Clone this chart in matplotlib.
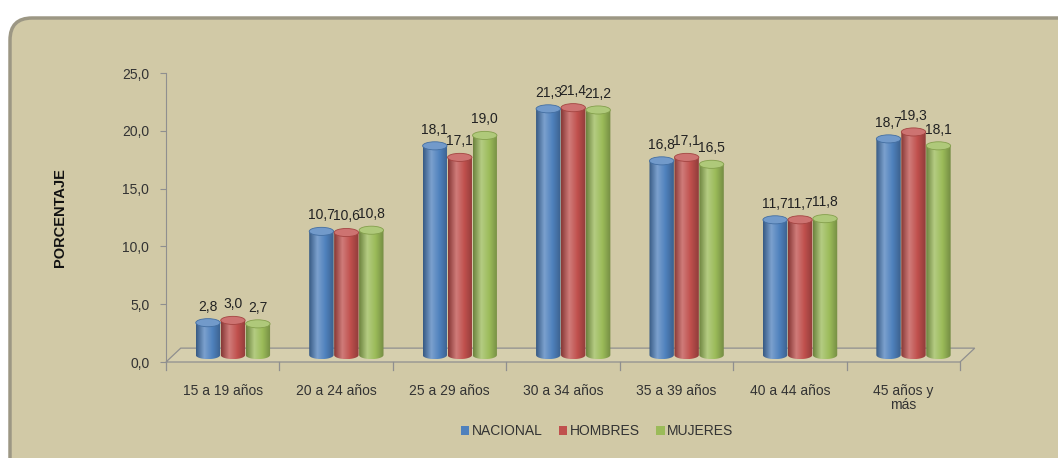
import numpy as np
import matplotlib
matplotlib.use('Agg')
import matplotlib.pyplot as plt
from matplotlib.patches import FancyBboxPatch, Ellipse, PathPatch, Polygon, Patch
from matplotlib.path import Path
from matplotlib.colors import LinearSegmentedColormap, to_rgb

plt.rcParams['font.family'] = ['Liberation Sans', 'DejaVu Sans']

# datos
categorias = ['15 a 19 años', '20 a 24 años', '25 a 29 años', '30 a 34 años',
              '35 a 39 años', '40 a 44 años', '45 años y\nmás']
series = ['NACIONAL', 'HOMBRES', 'MUJERES']
nacional = [2.8, 10.7, 18.1, 21.3, 16.8, 11.7, 18.7]
hombres = [3.0, 10.6, 17.1, 21.4, 17.1, 11.7, 19.3]
mujeres = [2.7, 10.8, 19.0, 21.2, 16.5, 11.8, 18.1]
colores = ['#4F81BD', '#C0504D', '#9BBB59']


def fmt(v):
    return '{:.1f}'.format(v).replace('.', ',')


def mezcla(c, w, f):
    c = np.array(to_rgb(c))
    return tuple(c * (1 - f) + np.array(w) * f)


fig = plt.figure(figsize=(10.58, 4.58), dpi=100)
fig.patch.set_facecolor('white')

# marco de fondo
bg = fig.add_axes([0, 0, 1, 1])
bg.set_xlim(0, 1058)
bg.set_ylim(0, 458)
bg.axis('off')
bg.add_patch(FancyBboxPatch((10, -30), 1080, 470,
                            boxstyle='round,pad=0,rounding_size=22',
                            fc='#D1C9A6', ec='#9c9784', lw=2.5))

ax = fig.add_axes([166 / 1058, 96 / 458, 794 / 1058, 289 / 458])
ax.set_facecolor('none')
ax.set_xlim(-0.5, 6.5)
ax.set_ylim(0, 25)

# piso 3D
ddx, ddy = 0.13, 1.2
ax.add_patch(Polygon([(-0.5, 0), (6.5, 0), (6.5 + ddx, ddy), (-0.5 + ddx, ddy)],
                     closed=True, fc='#D6CFAE', ec='#8f8f8f', lw=0.9,
                     clip_on=False, zorder=1))
for b in np.arange(-0.5, 7.0, 1.0):
    ax.plot([b, b], [0, -0.7], color='#8f8f8f', lw=0.9, clip_on=False, zorder=1)

ancho = 0.215
paso = 0.22
off = 0.09
base = 0.6
eh = 0.7

for j, (vals, col) in enumerate(zip([nacional, hombres, mujeres], colores)):
    cmap = LinearSegmentedColormap.from_list(
        'c%d' % j, [mezcla(col, (0, 0, 0), 0.3), mezcla(col, (1, 1, 1), 0.25),
                    col, mezcla(col, (0, 0, 0), 0.25)])
    for i, v in enumerate(vals):
        xc = i + off + (j - 1) * paso
        x0, x1 = xc - ancho / 2, xc + ancho / 2
        y0, y1 = base, v + base
        t = np.linspace(np.pi, 2 * np.pi, 20)
        arco = [(xc + ancho / 2 * np.cos(a), y0 + eh / 2 * np.sin(a)) for a in t]
        verts = [(x0, y1)] + arco + [(x1, y1), (x0, y1)]
        codes = [Path.MOVETO] + [Path.LINETO] * (len(verts) - 2) + [Path.CLOSEPOLY]
        pp = PathPatch(Path(verts, codes), fc='none', ec='none')
        ax.add_patch(pp)
        im = ax.imshow(np.linspace(0, 1, 60)[None, :], cmap=cmap, aspect='auto',
                       extent=(x0, x1, y0 - eh / 2, y1), zorder=2 + i * 0.1)
        im.set_clip_path(pp)
        ax.add_patch(Ellipse((xc, y1), ancho, eh, fc=mezcla(col, (1, 1, 1), 0.2),
                             ec=mezcla(col, (0, 0, 0), 0.15), lw=0.6,
                             zorder=2.05 + i * 0.1))
        ax.text(xc, v + 2.0, fmt(v), ha='center', va='center', fontsize=10,
                color='#222222', zorder=5)

ax.set_xlim(-0.5, 6.5)
ax.set_ylim(0, 25)

for s in ['top', 'right', 'bottom']:
    ax.spines[s].set_visible(False)
ax.spines['left'].set_color('#8f8f8f')
ax.set_yticks(np.arange(0, 26, 5))
ax.set_yticklabels([fmt(v) for v in np.arange(0, 26, 5)], fontsize=10, color='#333333')
ax.tick_params(axis='y', length=4, color='#8f8f8f', pad=8)
ax.set_xticks(range(7))
ax.set_xticklabels(categorias, fontsize=10, color='#333333', linespacing=0.95)
ax.tick_params(axis='x', length=0, pad=16)
ax.set_ylabel('PORCENTAJE', fontsize=10.5, fontweight='bold', labelpad=40, color='#111111')

manijas = [Patch(fc=c, ec='none') for c in colores]
fig.legend(manijas, series, loc='center', bbox_to_anchor=(597 / 1058, 1 - 431 / 458),
           ncol=3, frameon=False, fontsize=10, handlelength=0.6, handleheight=0.6,
           handletextpad=0.15, columnspacing=1.2, labelcolor='#333333')

fig.savefig('out.png', dpi=100)
